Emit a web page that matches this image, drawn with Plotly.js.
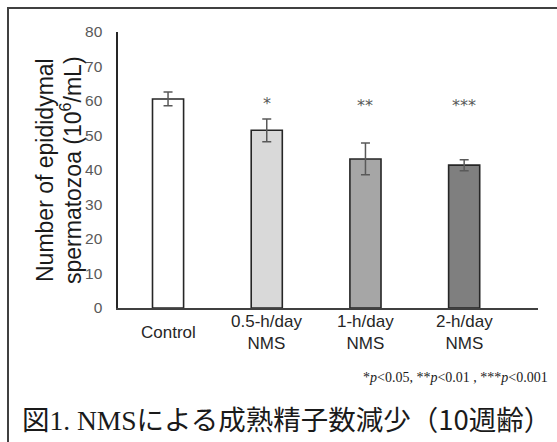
<!DOCTYPE html>
<html>
<head>
<meta charset="utf-8">
<script src="https://cdn.plot.ly/plotly-3.0.1.min.js"></script>
<style>html,body{margin:0;padding:0;background:#fff;}#chart{width:557px;height:442px;}</style>
</head>
<body>
<div id="chart"></div>
<script>
const categories = ["Control", "0.5-h/day NMS", "1-h/day NMS", "2-h/day NMS"];
const tickLabels = ["Control", "0.5-h/day<br>NMS", "1-h/day<br>NMS", "2-h/day<br>NMS"];
const means = [60.6, 51.5, 43.2, 41.4];
const errors = [2.0, 3.3, 4.6, 1.6];
const significance = ["", "*", "**", "***"];
const starLevel = [0, 59.3, 58.6, 58.6];
const barColors = ["#ffffff", "#d9d9d9", "#a6a6a6", "#7f7f7f"];
const yTitleLines = ["Number of epididymal", "spermatozoa (10<sup>6</sup>/mL)"];

const W = 557, H = 442;
const mL = 118, mR = 19, mT = 32, mB = 134;
const pw = W - mL - mR, ph = H - mT - mB;
const px = x => (x - mL) / pw;
const py = y => (H - mB - y) / ph;

const trace = {
  type: "bar",
  x: categories,
  y: means,
  width: 0.315,
  marker: { color: barColors, line: { color: "#262626", width: 1.6 } },
  error_y: { type: "data", array: errors, visible: true, color: "#595959", thickness: 1.5, width: 4.5 },
  hoverinfo: "x+y"
};

const annotations = [];
categories.forEach((c, i) => {
  annotations.push({
    x: c, xref: "x", y: py(332), yref: "paper",
    text: tickLabels[i], showarrow: false, xanchor: "center", yanchor: "middle",
    font: { family: "Liberation Sans, Arial, sans-serif", size: 17, color: "#262626" }
  });
  if (significance[i]) {
    annotations.push({
      x: c, xref: "x", y: starLevel[i], yref: "y",
      text: significance[i], showarrow: false, xanchor: "center", yanchor: "middle",
      font: { family: "DejaVu Sans, sans-serif", size: 16, color: "#595959" }
    });
  }
});
const yTitleX = [45, 71];
yTitleLines.forEach((t, i) => {
  annotations.push({
    x: px(yTitleX[i]), xref: "paper", y: py(170), yref: "paper",
    xanchor: "center", yanchor: "middle", showarrow: false, textangle: -90,
    text: t,
    font: { family: "Liberation Sans, Arial, sans-serif", size: 23, color: "#1a1a1a" }
  });
});
annotations.push({
  x: px(550), xref: "paper", y: py(377), yref: "paper",
  xanchor: "right", yanchor: "middle", showarrow: false,
  text: "*<i>p</i>&lt;0.05, **<i>p</i>&lt;0.01 , ***<i>p</i>&lt;0.001",
  font: { family: "Liberation Serif, Times New Roman, serif", size: 14, color: "#1a1a1a" }
});
annotations.push({
  x: px(20), xref: "paper", y: py(418), yref: "paper",
  xanchor: "left", yanchor: "middle", showarrow: false,
  text: "図<span style=\"font-family:'Liberation Serif',serif\">1. NMS</span>による成熟精子数減少（10週齢）",
  font: { family: "Noto Sans CJK JP, sans-serif", size: 27.5, color: "#1a1a1a" }
});

const layout = {
  width: W, height: H,
  margin: { l: mL, r: mR, t: mT, b: mB, pad: 0 },
  paper_bgcolor: "#ffffff", plot_bgcolor: "#ffffff",
  showlegend: false,
  font: { family: "Liberation Sans, Arial, sans-serif" },
  xaxis: {
    type: "category", range: [-0.507, 3.748],
    showticklabels: false, ticks: "", showgrid: false, zeroline: false,
    showline: true, linecolor: "#404040", linewidth: 1.6, fixedrange: true
  },
  yaxis: {
    range: [0, 80], dtick: 10, tick0: 0,
    showgrid: false, zeroline: false, ticks: "", ticklabelstandoff: 11,
    showline: true, linecolor: "#262626", linewidth: 1.6,
    tickfont: { family: "Liberation Sans, Arial, sans-serif", size: 15.5, color: "#595959" },
    automargin: false, fixedrange: true
  },
  shapes: [{
    type: "rect", xref: "paper", yref: "paper",
    x0: px(8), x1: px(570), y0: py(460), y1: py(8),
    line: { color: "#404040", width: 2 }, fillcolor: "rgba(0,0,0,0)", layer: "below"
  }],
  annotations: annotations
};

Plotly.newPlot("chart", [trace], layout, { displayModeBar: false, staticPlot: true });
</script>
</body>
</html>
